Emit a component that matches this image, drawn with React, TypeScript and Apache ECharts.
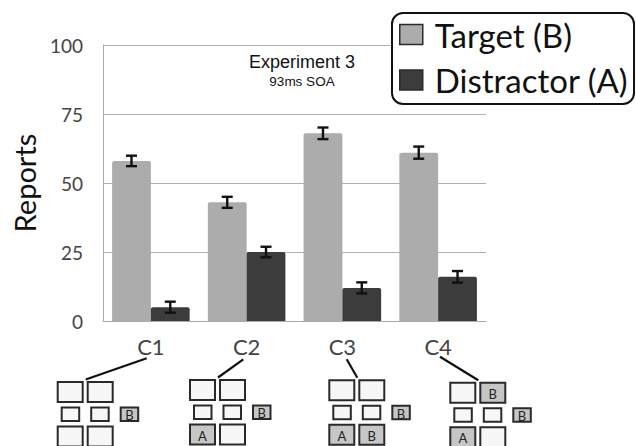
import React, { useEffect, useRef } from "react";
import * as echarts from "echarts";

const categories = ["C1", "C2", "C3", "C4"];
const targetValues = [58, 43, 68, 61];
const distractorValues = [5, 25, 12, 16];
const targetErrors = [1.9, 2.0, 2.1, 2.2];
const distractorErrors = [2.0, 1.9, 2.0, 2.1];
const seriesNames = ["Target (B)", "Distractor (A)"];
const titleText = "Experiment 3";
const subtitleText = "93ms SOA";
const yAxisName = "Reports";

// Display-condition diagrams: letters in top row, bottom row cells
const diagramTop = [["", ""], ["", ""], ["", ""], ["", "B"]];
const diagramBottom = [["", ""], ["A", ""], ["A", "B"], ["A", ""]];
const diagramSide = ["B", "B", "B", "B"];

const BAR_GAP = 0.19;
const FONT = "Lato, 'Open Sans', sans-serif";

export default function App() {
  const ref = useRef<HTMLDivElement>(null);

  useEffect(() => {
    if (!ref.current) return;
    const chart = echarts.init(ref.current, null, { renderer: "svg" });

    const errorSeries = (idx: number, values: number[], errs: number[]) => ({
      type: "custom",
      name: seriesNames[idx] + " error",
      z: 5,
      silent: true,
      data: values.map((v, i) => [i, v - errs[i], v + errs[i]]),
      encode: { x: 0, y: [1, 2] },
      renderItem: (params: any, api: any) => {
        const cat = api.value(0);
        const lo = api.coord([cat, api.value(1)]);
        const hi = api.coord([cat, api.value(2)]);
        const catW = api.size([1, 0])[0];
        const off = ((idx === 0 ? -1 : 1) * catW * (1 - BAR_GAP)) / 4;
        const x = lo[0] + off;
        const cap = 5.5;
        const st = { stroke: "#111", lineWidth: 2.4 };
        return {
          type: "group",
          children: [
            { type: "line", shape: { x1: x, y1: hi[1], x2: x, y2: lo[1] }, style: st },
            { type: "line", shape: { x1: x - cap, y1: hi[1], x2: x + cap, y2: hi[1] }, style: st },
            { type: "line", shape: { x1: x - cap, y1: lo[1], x2: x + cap, y2: lo[1] }, style: st },
          ],
        };
      },
    });

    // diagram graphics
    const origins = [
      [56.7, 381],
      [189, 379],
      [328.3, 379.3],
      [449.3, 381.7],
    ];
    const lineStarts = [
      [146.7, 358.3],
      [243.3, 359.3],
      [346.7, 359.3],
      [440, 356.7],
    ];
    const graphics: any[] = [];
    const box = (x: number, y: number, w: number, h: number, label: string) => {
      graphics.push({
        type: "rect",
        shape: { x: x + 1, y: y + 1, width: w - 2, height: h - 2 },
        style: { fill: label ? "#c6c6c6" : "#f7f7f7", stroke: "#2a2a2a", lineWidth: 2 },
        z: 1,
      });
      if (label) {
        graphics.push({
          type: "text",
          x: x + w / 2,
          y: y + h / 2 + 1,
          style: {
            text: label,
            fill: "#222",
            font: `13px ${FONT}`,
            align: "center",
            verticalAlign: "middle",
          },
          z: 2,
        });
      }
    };
    origins.forEach(([x0, y0], i) => {
      graphics.push({
        type: "line",
        shape: { x1: lineStarts[i][0], y1: lineStarts[i][1], x2: x0 + 29, y2: y0 - 1.5 },
        style: { stroke: "#111", lineWidth: 2.2 },
        z: 1,
      });
      box(x0, y0, 27, 22, diagramTop[i][0]);
      box(x0 + 30, y0, 27, 22, diagramTop[i][1]);
      box(x0 + 4, y0 + 25.5, 19.5, 15.5, "");
      box(x0 + 33.5, y0 + 25.5, 19.5, 15.5, "");
      box(x0 + 63, y0 + 25.5, 19.5, 15.5, diagramSide[i]);
      box(x0, y0 + 44.5, 27, 22, diagramBottom[i][0]);
      box(x0 + 30, y0 + 44.5, 27, 22, diagramBottom[i][1]);
    });
    // legend frame
    graphics.push({
      type: "rect",
      shape: { x: 392, y: 13, width: 242, height: 91, r: 11 },
      style: { fill: "#fff", stroke: "#111", lineWidth: 2 },
      z: 10,
    });

    chart.setOption({
      animation: false,
      backgroundColor: "#fff",
      title: {
        text: titleText,
        subtext: subtitleText,
        left: 302,
        top: 53,
        textAlign: "center",
        padding: 0,
        itemGap: 3,
        textStyle: { fontFamily: "'Liberation Sans', Arial, sans-serif", fontSize: 18, fontWeight: "normal", color: "#111", lineHeight: 18 },
        subtextStyle: { fontFamily: "'Liberation Sans', Arial, sans-serif", fontSize: 13.5, color: "#111", lineHeight: 14 },
      },
      legend: {
        data: seriesNames,
        orient: "vertical",
        left: 399,
        top: 18,
        padding: 0,
        itemGap: 12.5,
        itemWidth: 23,
        itemHeight: 20,
        icon: "rect",
        z: 20,
        itemStyle: { borderColor: "#2a2a2a", borderWidth: 1.5 },
        textStyle: { fontFamily: FONT, fontSize: 33, lineHeight: 33, color: "#111", padding: [0, 0, 0, 7] },
      },
      grid: { left: 103, right: 150, top: 45, bottom: 125 },
      xAxis: {
        type: "category",
        data: categories,
        axisLine: { show: true, lineStyle: { color: "#aaa", width: 1 } },
        axisTick: { show: false },
        axisLabel: { fontFamily: FONT, fontSize: 22, color: "#444", margin: 14, lineHeight: 22 },
      },
      yAxis: {
        type: "value",
        min: 0,
        max: 100,
        interval: 25,
        name: yAxisName,
        nameLocation: "middle",
        nameRotate: 90,
        nameGap: 57,
        nameTextStyle: { fontFamily: FONT, fontSize: 29, color: "#111", lineHeight: 29 },
        axisLine: { show: true, lineStyle: { color: "#aaa", width: 1 } },
        axisTick: { show: false },
        splitLine: { lineStyle: { color: "#b0b0b0", width: 1 } },
        axisLabel: { fontFamily: FONT, fontSize: 19, color: "#444", margin: 20 },
      },
      series: [
        {
          type: "bar",
          name: seriesNames[0],
          data: targetValues,
          barGap: "0%",
          barCategoryGap: BAR_GAP * 100 + "%",
          itemStyle: { color: "#acacac", borderRadius: [2, 2, 0, 0] },
          z: 2,
        },
        {
          type: "bar",
          name: seriesNames[1],
          data: distractorValues,
          barGap: "0%",
          barCategoryGap: BAR_GAP * 100 + "%",
          itemStyle: { color: "#3c3c3c", borderRadius: [2, 2, 0, 0] },
          z: 2,
        },
        errorSeries(0, targetValues, targetErrors),
        errorSeries(1, distractorValues, distractorErrors),
      ],
      graphic: graphics,
    });

    return () => chart.dispose();
  }, []);

  return (
    <div
      ref={ref}
      style={{ position: "fixed", left: 0, top: 0, width: 636, height: 446 }}
    />
  );
}
